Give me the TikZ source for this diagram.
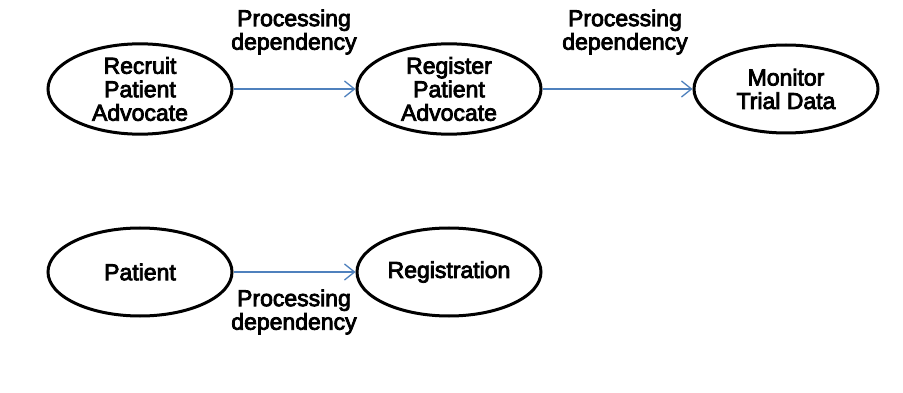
\documentclass[tikz,border=0pt]{standalone}
\usepackage{fontspec}
\setmainfont{Liberation Sans}
\newfontfamily\heavysans{Liberation Sans}[FakeBold=3.5]
\usetikzlibrary{shapes.geometric,arrows.meta}
\definecolor{flowblue}{RGB}{79,129,189}
\begin{document}
\begin{tikzpicture}[x=1pt,y=-1pt,
  activity/.style={ellipse, draw=black, line width=3pt,
    minimum width=184pt, minimum height=88pt, inner sep=0pt,
    align=center, font=\heavysans\fontsize{23}{23.5}\selectfont},
  flow/.style={draw=flowblue, line width=1.3pt,
    -{Straight Barb[length=10pt,width=16pt,line width=1.3pt]}},
  deplabel/.style={align=center, inner sep=0pt,
    font=\heavysans\fontsize{23}{23.5}\selectfont}]
\useasboundingbox (0,0) rectangle (903,393);

% upper process chain
\node[activity] (recruit)  at (140,89) {Recruit\\Patient\\Advocate};
\node[activity] (register) at (449,89) {Register\\Patient\\Advocate};
\node[activity] (monitor)  at (786,89) {Monitor\\Trial Data};

% lower pair
\node[activity] (patient)  at (140,272) {Patient};
\node[activity] (registration) at (449,272) {Registration};

% dependencies
\draw[flow] (recruit.east) -- (register.west);
\draw[flow] (register.east) -- (monitor.west);
\draw[flow] (patient.east) -- (registration.west);

\node[deplabel] (dep1) at (294,32) {Processing\\dependency};
\node[deplabel] (dep2) at (625,32) {Processing\\dependency};
\node[deplabel] (dep3) at (294,312) {Processing\\dependency};
\end{tikzpicture}
\end{document}
